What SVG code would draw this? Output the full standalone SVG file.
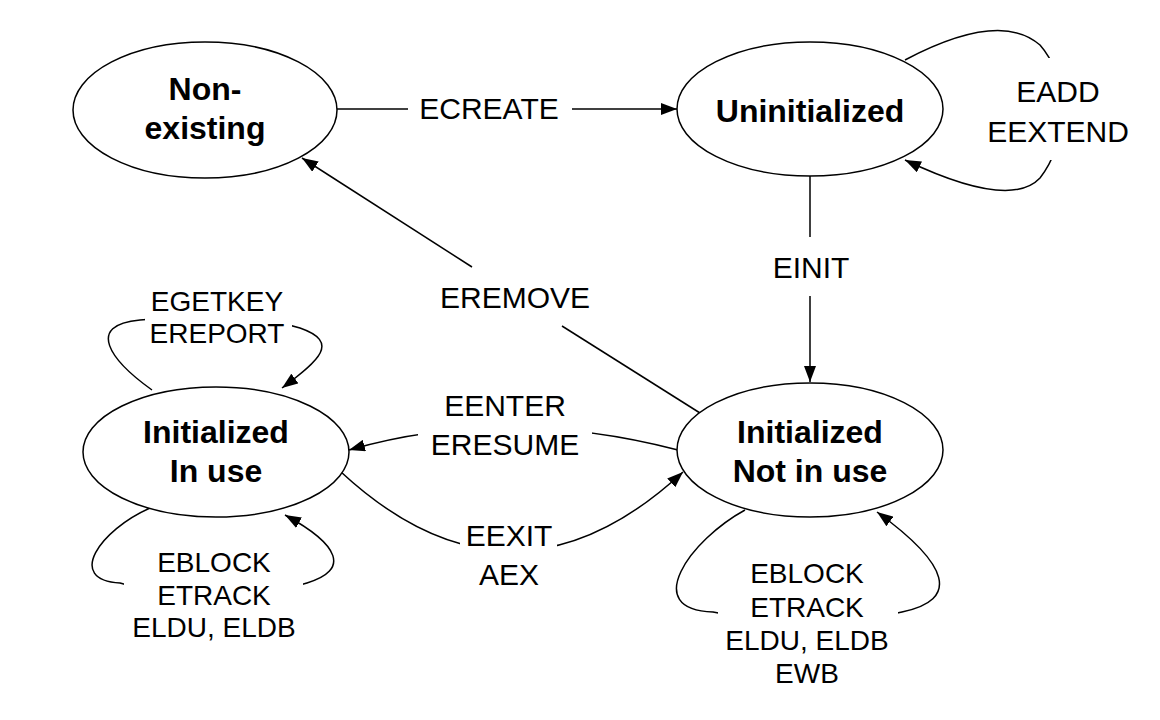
<svg xmlns="http://www.w3.org/2000/svg" width="1160" height="720" viewBox="0 0 1160 720">
  <style>
    .node { fill: #ffffff; stroke: #000000; stroke-width: 1.5; }
    .ntext { font-family: "Liberation Sans", Arial, Helvetica, sans-serif; font-size: 32px; font-weight: bold; fill: #000000; text-anchor: middle; }
    .ltext { font-family: "Liberation Sans", Arial, Helvetica, sans-serif; font-size: 30px; fill: #000000; text-anchor: middle; }
    .stext { font-family: "Liberation Sans", Arial, Helvetica, sans-serif; font-size: 28px; fill: #000000; text-anchor: middle; }
    .edge { fill: none; stroke: #000000; stroke-width: 1.5; }
    .lbg { fill: #ffffff; stroke: none; }
  </style>
  <defs>
    <marker id="arrow" markerUnits="userSpaceOnUse" markerWidth="16" markerHeight="12" refX="16" refY="6" orient="auto">
      <path d="M0,0 L16,6 L0,12 Z" fill="#000000"/>
    </marker>
  </defs>
  <rect x="0" y="0" width="1160" height="720" fill="#ffffff"/>

  <g id="connectors">
    <!-- ECREATE -->
    <line class="edge" x1="337" y1="109" x2="408" y2="109"/>
    <line class="edge" x1="572" y1="109" x2="677" y2="109" marker-end="url(#arrow)"/>
    <!-- EINIT -->
    <line class="edge" x1="810" y1="176" x2="810" y2="237"/>
    <line class="edge" x1="810" y1="296" x2="810" y2="382" marker-end="url(#arrow)"/>
    <!-- EREMOVE -->
    <line class="edge" x1="700" y1="413" x2="562" y2="326"/>
    <line class="edge" x1="472" y1="267" x2="302" y2="158" marker-end="url(#arrow)"/>
    <!-- EENTER / ERESUME -->
    <path class="edge" d="M678,450 Q505,405 349,450" marker-end="url(#arrow)"/>
    <!-- EEXIT / AEX -->
    <path class="edge" d="M341,472 Q512,630 683,472" marker-end="url(#arrow)"/>
    <!-- Uninitialized self loop -->
    <path class="edge" d="M905,60 Q1000,10 1040,45 Q1062,70 1060,110 Q1062,150 1040,178 Q1010,210 905,160" marker-end="url(#arrow)"/>
    <!-- In use top loop -->
    <path class="edge" d="M152,390 C110,360 85,325 140,320 C180,316 260,316 300,328 C340,342 320,360 282,388" marker-end="url(#arrow)"/>
    <!-- In use bottom loop -->
    <path class="edge" d="M150,508 C100,530 65,580 120,583 C170,598 260,598 307,583 C350,570 340,545 285,515" marker-end="url(#arrow)"/>
    <!-- Not in use bottom loop -->
    <path class="edge" d="M745,510 C690,540 640,610 713,612 C760,622 860,622 902,612 C960,600 950,565 877,512" marker-end="url(#arrow)"/>
  </g>

  <g id="labels">
    <text class="ltext" x="489" y="119">ECREATE</text>
    <text class="ltext" x="811" y="278">EINIT</text>
    <text class="ltext" x="515" y="308">EREMOVE</text>
    <rect class="lbg" x="418" y="385" width="174" height="77"/>
    <text class="ltext" x="505" y="416">EENTER</text>
    <text class="ltext" x="505" y="455">ERESUME</text>
    <rect class="lbg" x="460" y="515" width="97" height="78"/>
    <text class="ltext" x="509" y="546">EEXIT</text>
    <text class="ltext" x="509" y="585">AEX</text>
    <rect class="lbg" x="1000" y="58" width="125" height="102"/>
    <text class="ltext" x="1058" y="102">EADD</text>
    <text class="ltext" x="1058" y="142">EEXTEND</text>
    <rect class="lbg" x="145" y="283" width="147" height="67"/>
    <text class="stext" x="217" y="311">EGETKEY</text>
    <text class="stext" x="217" y="343">EREPORT</text>
    <rect class="lbg" x="124" y="548" width="179" height="97"/>
    <text class="stext" x="214" y="572">EBLOCK</text>
    <text class="stext" x="214" y="605">ETRACK</text>
    <text class="stext" x="214" y="637">ELDU, ELDB</text>
    <rect class="lbg" x="718" y="555" width="180" height="135"/>
    <text class="stext" x="807" y="583">EBLOCK</text>
    <text class="stext" x="807" y="617">ETRACK</text>
    <text class="stext" x="807" y="650">ELDU, ELDB</text>
    <text class="stext" x="807" y="683">EWB</text>
  </g>

  <g id="non-existing">
    <ellipse class="node" cx="205" cy="110" rx="132" ry="68"/>
    <text class="ntext" x="205" y="100">Non-</text>
    <text class="ntext" x="205" y="139">existing</text>
  </g>
  <g id="uninitialized">
    <ellipse class="node" cx="810" cy="109" rx="133" ry="67"/>
    <text class="ntext" x="810" y="122">Uninitialized</text>
  </g>
  <g id="initialized-in-use">
    <ellipse class="node" cx="216" cy="452" rx="133" ry="65"/>
    <text class="ntext" x="216" y="443">Initialized</text>
    <text class="ntext" x="216" y="482">In use</text>
  </g>
  <g id="initialized-not-in-use">
    <ellipse class="node" cx="810" cy="450" rx="133" ry="67"/>
    <text class="ntext" x="810" y="443">Initialized</text>
    <text class="ntext" x="810" y="482">Not in use</text>
  </g>
</svg>
